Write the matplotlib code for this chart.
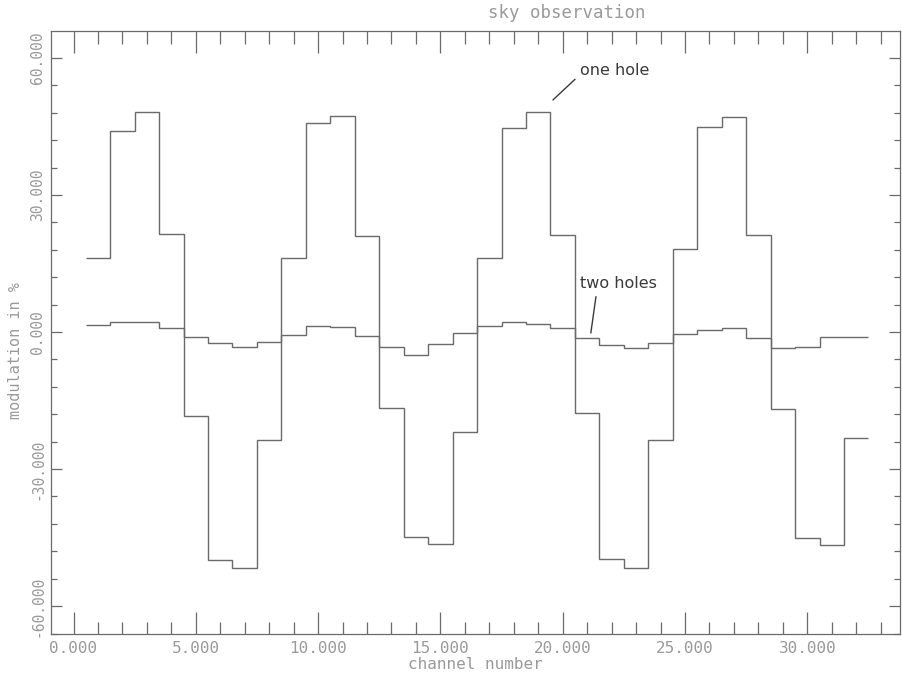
import matplotlib
matplotlib.use("Agg")
import matplotlib.pyplot as plt
import numpy as np
from matplotlib.ticker import MultipleLocator, FormatStrFormatter

channels = list(range(1, 33))
one_hole = [16.2, 44.0, 48.1, 21.4, -18.4, -49.9, -51.6, -23.6,
            16.2, 45.7, 47.3, 21.0, -16.6, -44.9, -46.4, -21.9,
            16.2, 44.6, 48.1, 21.2, -17.7, -49.7, -51.6, -23.6,
            18.2, 44.9, 47.0, 21.2, -16.8, -45.1, -46.6, -23.2]
two_holes = [1.5, 2.3, 2.2, 0.9, -1.1, -2.3, -3.3, -2.1,
             -0.6, 1.3, 1.2, -0.9, -3.3, -5.1, -2.7, -0.3,
             1.3, 2.2, 1.8, 0.9, -1.2, -2.9, -3.5, -2.4,
             -0.4, 0.4, 0.9, -1.3, -3.5, -3.3, -1.0, -1.0]
title = "sky observation"
xlabel = "channel number"
ylabel = "modulation in %"

line_c = "#6a6a6a"
text_c = "#9a9a9a"
mono = "DejaVu Sans Mono"

fig = plt.figure(figsize=(9.02, 6.76), dpi=100)
ax = fig.add_axes([51/902, 1-634/676, (900-51)/902, (634-31)/676])

def steps(x, y):
    edges = np.concatenate([[x[0]-0.5], np.asarray(x, float)+0.5])
    return edges, np.asarray(y, float)

e, v = steps(channels, one_hole)
ax.stairs(v, e, color=line_c, lw=1.0, baseline=None)
e, v = steps(channels, two_holes)
ax.stairs(v, e, color=line_c, lw=1.0, baseline=None)

ax.set_xlim(-0.92, 33.79)
ax.set_ylim(-66.1, 65.9)

ax.xaxis.set_major_locator(MultipleLocator(5))
ax.xaxis.set_minor_locator(MultipleLocator(1))
ax.yaxis.set_major_locator(MultipleLocator(30))
ax.yaxis.set_minor_locator(MultipleLocator(6))
ax.xaxis.set_major_formatter(FormatStrFormatter("%.3f"))
ax.yaxis.set_major_formatter(FormatStrFormatter("%.3f"))

ax.tick_params(axis="x", which="major", direction="in", length=16, width=0.9,
               color=line_c, top=True, bottom=True, labelsize=11.5, labelcolor=text_c, pad=5)
ax.tick_params(axis="x", which="minor", direction="in", length=9, width=0.9,
               color=line_c, top=True, bottom=True)
ax.tick_params(axis="y", which="major", direction="in", length=8, width=0.9,
               color=line_c, left=True, right=True, labelsize=10.5, labelcolor=text_c, pad=4)
ax.tick_params(axis="y", which="minor", direction="in", length=4.5, width=0.9,
               color=line_c, left=True, right=True)
for lab in ax.get_xticklabels():
    lab.set_fontfamily(mono)
for lab in ax.get_yticklabels():
    lab.set_fontfamily(mono)
    lab.set_rotation(90)
    lab.set_va("center")

for s in ax.spines.values():
    s.set_color(line_c)
    s.set_linewidth(0.9)

ax.set_xlabel(xlabel, color=text_c, fontsize=11.5, fontfamily=mono, labelpad=1)
ax.set_ylabel(ylabel, color=text_c, fontsize=11, fontfamily=mono)
ax.yaxis.set_label_coords(-28/849, 0.47)
fig.text(567/902, 1-13/676, title, color=text_c, fontsize=12.5, fontfamily=mono,
         ha="center", va="center")

ax.annotate("one hole", xy=(19.6, 50.8), xytext=(20.7, 57.3),
            fontsize=11.5, color="#3a3a3a", va="center", ha="left",
            arrowprops=dict(arrowstyle="-", color="#3a3a3a", lw=1.0,
                            shrinkA=2, shrinkB=0, relpos=(0, 0.2)))
ax.annotate("two holes", xy=(21.15, -0.2), xytext=(20.7, 10.6),
            fontsize=11.5, color="#3a3a3a", va="center", ha="left",
            arrowprops=dict(arrowstyle="-", color="#3a3a3a", lw=1.0,
                            shrinkA=2, shrinkB=0, relpos=(0.22, 0)))

fig.savefig("out.png", dpi=100)
